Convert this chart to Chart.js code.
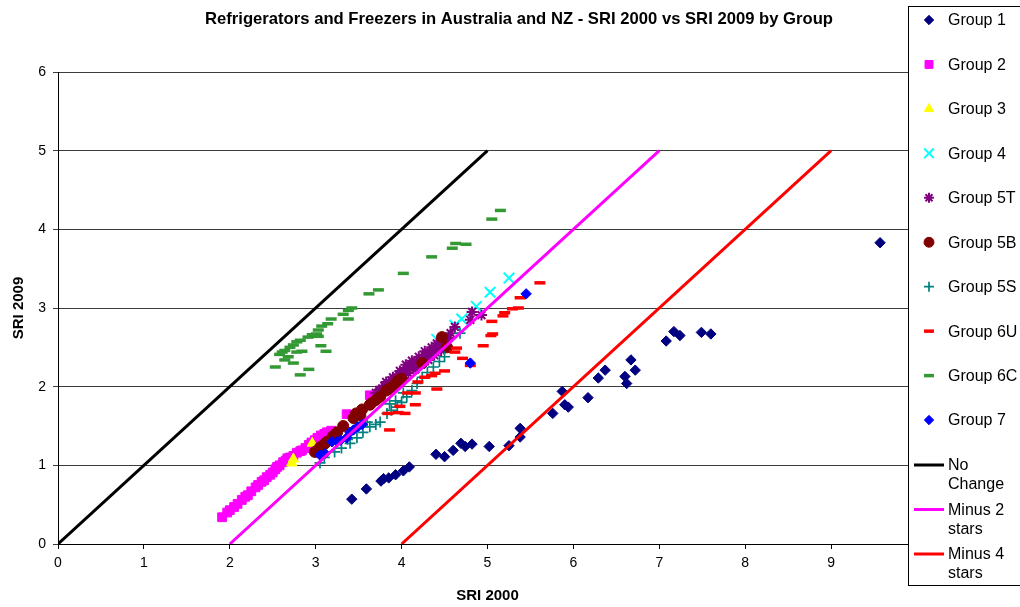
<!DOCTYPE html>
<html><head><meta charset="utf-8">
<script src="https://cdn.jsdelivr.net/npm/chart.js@4.4.1/dist/chart.umd.min.js"></script>
<style>html,body{margin:0;padding:0;background:#fff;}canvas{display:block;}</style>
</head><body>
<canvas id="c" width="1020" height="607"></canvas>
<script>
// ---- data ----
const chartTitle = 'Refrigerators and Freezers in Australia and NZ - SRI 2000 vs SRI 2009 by Group';
const xTitle = 'SRI 2000';
const yTitle = 'SRI 2009';
const xTicks = [0,1,2,3,4,5,6,7,8,9,10];
const yTicks = [0,1,2,3,4,5,6];

const g1X = [3.42,3.59,3.76,3.79,3.85,3.93,4.02,4.09,4.40,4.50,4.60,4.69,4.74,4.82,5.02,5.25,5.38,5.38,5.76,5.87,5.90,5.94,6.17,6.29,6.37,6.60,6.62,6.67,6.72,7.08,7.17,7.24,7.49,7.60,9.57];
const g1Y = [0.57,0.70,0.80,0.83,0.84,0.88,0.93,0.98,1.14,1.11,1.19,1.28,1.24,1.27,1.24,1.25,1.47,1.36,1.66,1.94,1.77,1.74,1.86,2.11,2.21,2.13,2.04,2.34,2.21,2.58,2.70,2.65,2.69,2.67,3.83];

const g2X = [1.91,1.97,2.00,2.05,2.09,2.14,2.18,2.21,2.25,2.30,2.33,2.37,2.40,2.43,2.47,2.50,2.53,2.55,2.58,2.62,2.65,2.67,2.70,2.74,2.78,2.82,2.84,2.88,2.92,2.95,2.99,3.02,3.06,3.10,3.13,3.18,3.36,3.63,2.96,3.04,3.12];
const g2Y = [0.34,0.40,0.43,0.47,0.51,0.56,0.60,0.62,0.67,0.72,0.75,0.79,0.81,0.85,0.88,0.91,0.95,0.98,1.00,1.04,1.06,1.09,1.10,1.12,1.16,1.18,1.19,1.22,1.26,1.29,1.32,1.35,1.38,1.40,1.42,1.44,1.65,1.89,1.22,1.28,1.36];

const g3X = [2.72,2.74,2.96];
const g3Y = [1.03,1.08,1.28];

const g4X = [5.25,5.03,4.87,4.70,4.62,4.41];
const g4Y = [3.38,3.20,3.02,2.86,2.78,2.60];

const g5TX = [3.70,3.74,3.77,3.80,3.83,3.86,3.88,3.91,3.94,3.97,4.00,4.03,4.06,4.09,4.12,4.15,4.18,4.21,4.24,4.27,4.30,4.33,4.36,4.39,4.42,4.45,4.48,4.52,4.55,3.78,3.85,3.92,4.01,4.08,4.16,4.23,4.31,4.38,4.46,3.90,4.05,4.20,4.35,4.45,4.50,4.57,4.62,4.80,4.82,4.93,3.82,3.98,4.12,4.27,4.41];
const g5TY = [1.92,1.96,1.97,2.01,2.02,2.05,2.08,2.10,2.12,2.15,2.17,2.20,2.22,2.25,2.27,2.29,2.32,2.34,2.36,2.39,2.41,2.43,2.46,2.48,2.51,2.53,2.55,2.59,2.62,1.93,1.99,2.04,2.11,2.17,2.22,2.28,2.34,2.40,2.46,2.12,2.28,2.38,2.50,2.57,2.62,2.68,2.76,2.85,2.95,2.91,2.06,2.20,2.33,2.45,2.55];

const g5BX = [2.99,3.03,3.05,3.10,3.13,3.20,3.25,3.32,3.44,3.47,3.52,3.54,3.63,3.65,3.70,3.75,3.82,3.85,3.90,3.93,3.96,4.00,4.24,4.47,4.53];
const g5BY = [1.17,1.19,1.23,1.27,1.30,1.37,1.42,1.50,1.60,1.66,1.64,1.71,1.77,1.79,1.83,1.87,1.95,1.97,2.00,2.04,2.08,2.10,2.30,2.63,2.50];

const g5SX = [3.05,3.10,3.22,3.30,3.37,3.40,3.48,3.55,3.60,3.63,3.70,3.75,3.83,3.86,3.88,3.93,3.95,4.00,4.02,4.06,4.12,4.18,4.24,4.30,4.37,4.44,4.50,4.68];
const g5SY = [1.03,1.10,1.17,1.22,1.33,1.28,1.35,1.42,1.55,1.49,1.52,1.55,1.66,1.78,1.70,1.82,1.74,1.80,1.92,1.87,1.95,2.04,2.12,2.18,2.25,2.32,2.38,2.68];

const g6UX = [5.61,5.38,5.36,5.29,5.20,5.18,5.05,5.06,5.04,4.95,4.64,4.62,4.71,4.80,4.50,4.39,4.35,4.27,4.19,4.41,4.16,4.07,4.16,3.98,4.04,3.96,3.84,3.86];
const g6UY = [3.32,3.13,3.00,2.99,2.94,2.90,2.83,2.67,2.65,2.52,2.49,2.44,2.36,2.27,2.20,2.17,2.14,2.12,2.06,1.97,1.92,1.92,1.77,1.75,1.66,1.67,1.66,1.45];

const g6CX = [4.02,3.73,3.62,3.42,3.38,3.32,3.38,3.18,3.14,3.07,3.03,3.01,2.96,2.91,3.03,2.82,2.78,2.74,2.70,2.64,2.61,2.58,2.68,2.84,2.78,3.06,3.12,2.64,2.74,2.53,2.92,2.82,4.35,4.59,4.63,4.75,5.05,5.15];
const g6CY = [3.44,3.23,3.18,3.00,2.97,2.92,2.86,2.86,2.80,2.77,2.72,2.67,2.66,2.63,2.64,2.59,2.57,2.53,2.50,2.46,2.44,2.41,2.38,2.45,2.44,2.52,2.45,2.34,2.30,2.25,2.22,2.15,3.65,3.76,3.82,3.81,4.13,4.24];

const g7X = [3.05,3.11,3.19,3.25,3.29,3.36,3.40,3.44,3.49,3.54,4.80,5.45];
const g7Y = [1.13,1.15,1.30,1.30,1.32,1.35,1.42,1.45,1.49,1.52,2.30,3.18];

const noChangeX = [0,5];  const noChangeY = [0,5];
const minus2X = [2,7];    const minus2Y = [0,5];
const minus4X = [4,9];    const minus4Y = [0,5];

const seriesNames = ['Group 1','Group 2','Group 3','Group 4','Group 5T','Group 5B','Group 5S','Group 6U','Group 6C','Group 7'];
const lineNames = [['No','Change'],['Minus 2','stars'],['Minus 4','stars']];

// ---- build ----
const pts = (xs, ys) => xs.map((x, i) => ({x: x, y: ys[i]}));
const FONT = "'Liberation Sans', Arial, sans-serif";

const scatterStyles = [
  {ps:'rectRot', r:5.2, fill:'#000080', stroke:'#000080', bw:1},
  {ps:'rect', r:6.2, fill:'#FF00FF', stroke:'#FF00FF', bw:1},
  {ps:'triangle', r:6, fill:'#FFFF00', stroke:'#FFFF00', bw:1},
  {ps:'crossRot', r:7.5, fill:'#00FFFF', stroke:'#00FFFF', bw:2},
  {ps:'star', r:5.5, fill:'#800080', stroke:'#800080', bw:2},
  {ps:'circle', r:5.5, fill:'#800000', stroke:'#800000', bw:1},
  {ps:'cross', r:5.5, fill:'#008080', stroke:'#008080', bw:1.7},
  {ps:'line', r:5.5, fill:'#FF0000', stroke:'#FF0000', bw:3.5},
  {ps:'line', r:5.5, fill:'#339933', stroke:'#339933', bw:3.5},
  {ps:'rectRot', r:5.2, fill:'#0000FF', stroke:'#0000FF', bw:1}
];
const scatterData = [pts(g1X,g1Y),pts(g2X,g2Y),pts(g3X,g3Y),pts(g4X,g4Y),pts(g5TX,g5TY),pts(g5BX,g5BY),pts(g5SX,g5SY),pts(g6UX,g6UY),pts(g6CX,g6CY),pts(g7X,g7Y)];
const lineColors = ['#000000','#FF00FF','#FF0000'];
const lineData = [pts(noChangeX,noChangeY),pts(minus2X,minus2Y),pts(minus4X,minus4Y)];

const datasets = [];
scatterData.forEach((d, i) => {
  const s = scatterStyles[i];
  datasets.push({
    label: seriesNames[i], data: d, showLine: false,
    pointStyle: s.ps, pointRadius: s.r, pointBackgroundColor: s.fill,
    pointBorderColor: s.stroke, pointBorderWidth: s.bw,
    backgroundColor: s.fill, borderColor: s.stroke,
    order: 100 - i
  });
});
lineData.forEach((d, i) => {
  datasets.push({
    label: lineNames[i].join(' '), data: d, showLine: true,
    borderColor: lineColors[i], borderWidth: 3, pointRadius: 0,
    backgroundColor: lineColors[i], fill: false,
    order: 50 - i
  });
});

const overlay = {
  id: 'overlay',
  afterDraw(chart) {
    const ctx = chart.ctx;
    ctx.save();
    // title
    ctx.fillStyle = '#000';
    ctx.font = 'bold 17px ' + FONT;
    ctx.textAlign = 'center';
    ctx.textBaseline = 'middle';
    ctx.fillText(chartTitle, 519, 19, 628);
    // legend box
    const L = 908, T = 6, B = 585;
    ctx.fillStyle = '#fff';
    ctx.fillRect(L, T, 1020 - L, B - T);
    ctx.strokeStyle = '#000';
    ctx.lineWidth = 1;
    ctx.strokeRect(L + 0.5, T + 0.5, 1020 - L + 5, B - T);
    ctx.font = '16px ' + FONT;
    ctx.textAlign = 'left';
    for (let i = 0; i < scatterStyles.length; i++) {
      const s = scatterStyles[i];
      const y = 20 + i * 44.45;
      ctx.fillStyle = s.fill; ctx.strokeStyle = s.stroke; ctx.lineWidth = s.bw;
      Chart.helpers.drawPoint(ctx, {pointStyle: s.ps, radius: s.r * 0.9, rotation: 0, borderWidth: s.bw}, 929, y);
      ctx.fillStyle = '#000';
      ctx.fillText(seriesNames[i], 948, y + 1);
    }
    const lineRows = [465, 509.5, 554];
    for (let i = 0; i < lineNames.length; i++) {
      const y = lineRows[i];
      ctx.strokeStyle = lineColors[i]; ctx.lineWidth = 3;
      ctx.beginPath(); ctx.moveTo(914, y); ctx.lineTo(944, y); ctx.stroke();
      ctx.fillStyle = '#000';
      ctx.fillText(lineNames[i][0], 948, y + 1);
      ctx.fillText(lineNames[i][1], 948, y + 20);
    }
    ctx.restore();
  }
};

Chart.defaults.font.family = FONT;
Chart.defaults.color = '#000';

new Chart(document.getElementById('c'), {
  type: 'scatter',
  data: { datasets: datasets },
  plugins: [overlay],
  options: {
    responsive: false, animation: false, events: [],
    layout: { padding: { top: 72, right: 103, left: 0, bottom: 0 } },
    plugins: { legend: {display: false}, tooltip: {enabled: false}, title: {display: false} },
    scales: {
      x: {
        type: 'linear', min: xTicks[0], max: xTicks[xTicks.length - 1],
        afterBuildTicks: (s) => { s.ticks = xTicks.map(v => ({value: v})); },
        afterFit: (s) => { s.height = 63; },
        ticks: { font: {size: 14}, padding: 6, maxRotation: 0, color: '#000' },
        grid: { drawOnChartArea: false, tickLength: 5, color: '#000' },
        border: { color: '#000', width: 1 },
        title: { display: true, text: xTitle, font: {size: 15, weight: 'bold'}, padding: {top: 0, bottom: 2}, color: '#000' }
      },
      y: {
        type: 'linear', min: yTicks[0], max: yTicks[yTicks.length - 1],
        afterBuildTicks: (s) => { s.ticks = yTicks.map(v => ({value: v})); },
        afterFit: (s) => { s.width = 58; },
        ticks: { font: {size: 14}, padding: 7, color: '#000' },
        grid: { color: '#3c3c3c', tickLength: 5 },
        border: { color: '#000', width: 1 },
        title: { display: true, text: yTitle, font: {size: 15, weight: 'bold'}, padding: {top: 10, bottom: 0}, color: '#000' }
      }
    }
  }
});
</script>
</body></html>
